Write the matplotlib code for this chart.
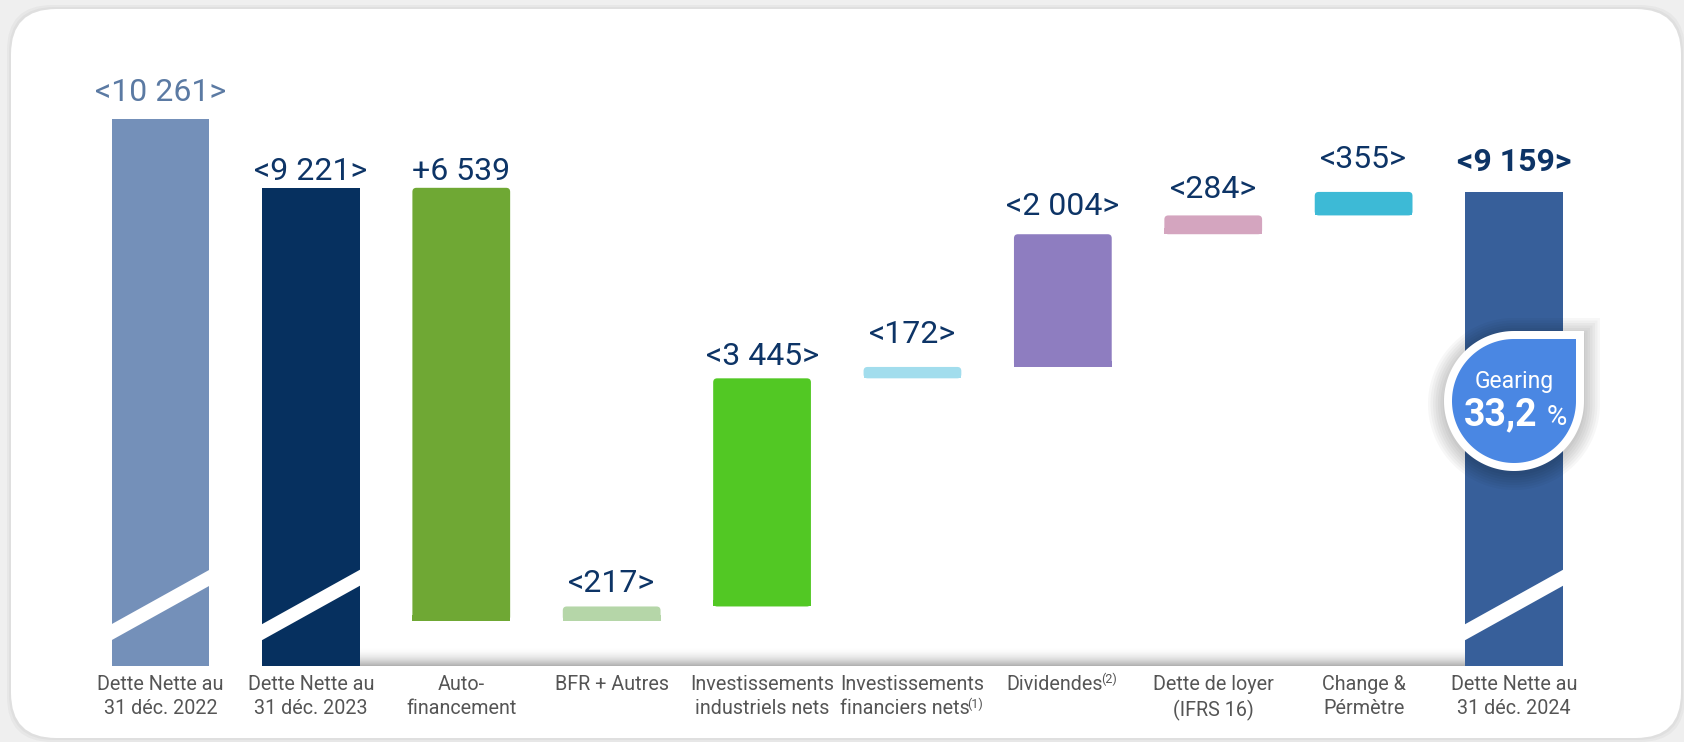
import numpy as np
import matplotlib.pyplot as plt
from matplotlib.patches import FancyBboxPatch, Polygon

plt.rcParams['font.family'] = ['Roboto', 'DejaVu Sans']

# data (M€, dette nette)
categories = ["Dette Nette au\n31 déc. 2022", "Dette Nette au\n31 déc. 2023", "Auto-\nfinancement",
              "BFR + Autres", "Investissements\nindustriels nets",
              "Investissements\nfinanciers nets", "Dividendes", "Dette de loyer\n(IFRS 16)",
              "Change &\nPérmètre", "Dette Nette au\n31 déc. 2024"]
footnotes = ["", "", "", "", "", "(1)", "(2)", "", "", ""]
debt_2022 = 10261
debt_2023 = 9221
flows = [6539, -217, -3445, -172, -2004, -284, -355]
debt_2024 = 9159
gearing = "33,2"

colors = ["#7490b9", "#06305f", "#6fa834", "#b5d6a8", "#52c824",
          "#a2dded", "#8e7dc0", "#d4a5bf", "#3dbad6", "#375f9a"]
label_gap = [18, 8, 8, 14, 13, 24, 19, 17, 24, 21]   # px above bar top

W, H = 1684, 742
fig = plt.figure(figsize=(W / 100, H / 100), dpi=100)
fig.patch.set_facecolor("#efefef")

# card background
bg = fig.add_axes([0, 0, 1, 1], zorder=0)
bg.set_xlim(0, W)
bg.set_ylim(H, 0)
bg.axis("off")
for k in range(3):
    bg.add_patch(FancyBboxPatch((11 - 2 * k, 9 - 2 * k), W - 14 + 4 * k, H - 13 + 4 * k,
                                boxstyle="round,pad=0,rounding_size=45", fc="black",
                                ec="none", alpha=0.03))
bg.add_patch(FancyBboxPatch((11, 9), W - 14, H - 13, boxstyle="round,pad=0,rounding_size=45",
                            fc="white", ec="none"))
# soft shadow above the baseline
grad = np.zeros((20, 200, 4))
grad[..., :3] = 0.45
grad[..., 3] = (np.linspace(0, 1, 20) ** 2 * 0.55)[:, None]
bg.imshow(grad, extent=(360, 1466, 666, 646), aspect="auto", interpolation="bilinear", zorder=1)

# main axes
ybot, ytop = 2000, 11453
ax_l, ax_r, ax_b, ax_t = 60, 1640, 666, 40
ax = fig.add_axes([ax_l / W, (H - ax_b) / H, (ax_r - ax_l) / W, (ax_b - ax_t) / H], zorder=1)
ax.patch.set_alpha(0)
xl = -(160.5 - ax_l) / 150.4
xr = 9 + (ax_r - 1514) / 150.4
ax.set_xlim(xl, xr)
ax.set_ylim(ybot, ytop)
u = (ytop - ybot) / (ax_b - ax_t)       # data units per pixel
xu = (xr - xl) / (ax_r - ax_l)          # x units per pixel

# waterfall levels
def fmt(v):
    return f"{v:,}".replace(",", " ")

bottoms, tops, labels = [], [], []
for v in [debt_2022, debt_2023]:
    bottoms.append(ybot)
    tops.append(v)
    labels.append("<" + fmt(v) + ">")
level = debt_2023
for f in flows:
    new = level - f
    bottoms.append(min(level, new))
    tops.append(max(level, new))
    labels.append("+" + fmt(f) if f > 0 else "<" + fmt(-f) + ">")
    level = new
bottoms.append(ybot)
tops.append(debt_2024)
labels.append("<" + fmt(debt_2024) + ">")

x = np.arange(len(categories))
bw = 0.65
broken = [0, 1, 9]
for i in x:
    if i in broken:
        ax.bar(i, tops[i] - bottoms[i], bottom=bottoms[i], width=bw, color=colors[i], zorder=2)
        # axis break stripe
        x0, x1 = i - bw / 2 - 0.01, i + bw / 2 + 0.01
        pts = [(x0, ybot + 25 * u), (x1, ybot + 81 * u), (x1, ybot + 97 * u), (x0, ybot + 41 * u)]
        ax.add_patch(Polygon(pts, closed=True, fc="white", ec="none", zorder=3))
    else:
        ax.add_patch(FancyBboxPatch((i - bw / 2, bottoms[i]), bw, tops[i] - bottoms[i],
                                    boxstyle=f"round,pad=0,rounding_size={4 * xu}",
                                    mutation_aspect=u / xu, fc=colors[i], ec="none", zorder=2))
        # keep bottom corners square
        ax.bar(i, min(tops[i] - bottoms[i], 6 * u), bottom=bottoms[i], width=bw,
               color=colors[i], zorder=2)

for i in x:
    c = "#5b7aa3" if i == 0 else "#0d3466"
    fw = "bold" if i == 9 else "normal"
    ax.annotate(labels[i], (i, tops[i]), xytext=(0, label_gap[i]), textcoords="offset pixels",
                ha="center", va="baseline", fontsize=23, color=c, fontweight=fw)

ax.set_xticks([])
ax.set_yticks([])
for s in ax.spines.values():
    s.set_visible(False)

# category labels, drawn line by line so footnotes can be superscripts
renderer = fig.canvas.get_renderer()
cat_size, sup_size, line_h, top_pad = 14.2, 9, 24.5, 9
cat_color = "#555555"


def text_width(s, size):
    t = fig.text(0, 0, s, fontsize=size)
    w = t.get_window_extent(renderer).width
    t.remove()
    return w


for i in x:
    lines = categories[i].split("\n")
    for k, line in enumerate(lines):
        y_off = -top_pad - k * line_h
        note = footnotes[i] if k == len(lines) - 1 else ""
        if note:
            w1 = text_width(line, cat_size)
            w2 = text_width(note, sup_size)
            start = -(w1 + w2) / 2
            ax.annotate(line, (i, ybot), xytext=(start, y_off), textcoords="offset pixels",
                        ha="left", va="top", fontsize=cat_size, color=cat_color)
            ax.annotate(note, (i, ybot), xytext=(start + w1 - 2, y_off + 2),
                        textcoords="offset pixels", ha="left", va="top",
                        fontsize=sup_size, color=cat_color)
        else:
            ax.annotate(line, (i, ybot), xytext=(0, y_off), textcoords="offset pixels",
                        ha="center", va="top", fontsize=cat_size, color=cat_color)

# gearing badge
ov = fig.add_axes([0, 0, 1, 1], zorder=3)
ov.set_xlim(0, W)
ov.set_ylim(H, 0)
ov.axis("off")


def badge(cx, cy, r):
    t = np.linspace(0, 1.5 * np.pi, 120)
    pts = np.column_stack([cx + r * np.cos(t), cy + r * np.sin(t)])
    return np.vstack([pts, [cx + r, cy - r]])


cx, cy = 1514, 401
for k in range(7):
    ov.add_patch(Polygon(badge(cx, cy + 3, 71 + 2.5 * k), closed=True, fc="black", ec="none",
                         alpha=0.03))
ov.add_patch(Polygon(badge(cx, cy, 70), closed=True, fc="white", ec="none"))
ov.add_patch(Polygon(badge(cx, cy, 62), closed=True, fc="#4a87e3", ec="none"))
ov.text(cx, 388, "Gearing", ha="center", va="baseline", fontsize=16.5, color="white")
ov.text(1537, 425, gearing, ha="right", va="baseline", fontsize=27, color="white", fontweight="bold")
ov.text(1547, 425, "%", ha="left", va="baseline", fontsize=20, color="white")

fig.savefig("out.png", dpi=100, facecolor=fig.get_facecolor())
